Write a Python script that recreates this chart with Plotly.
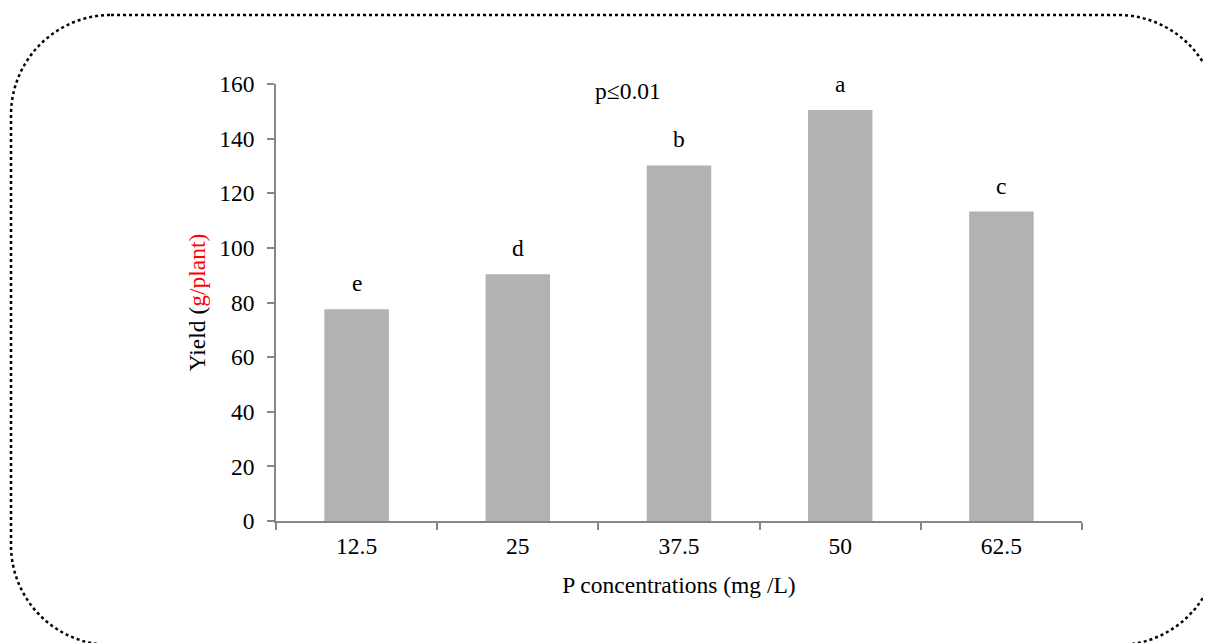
import plotly.graph_objects as go

categories = ["12.5", "25", "37.5", "50", "62.5"]
yield_values = [77.5, 90.3, 130.2, 150.5, 113.3]
letters = ["e", "d", "b", "a", "c"]
y_ticks = [0, 20, 40, 60, 80, 100, 120, 140, 160]

W, H = 1211, 643
OFF = 8  # page body margin offset
L, R, T, B = 276 - OFF, 1082 - OFF, 84 - OFF, 521 - OFF
FONT = "Liberation Serif, Times New Roman, serif"
FS = 23.5

def px2paper(x, y):
    x -= OFF
    y -= OFF
    return (x - L) / (R - L), (B - y) / (B - T)

def rounded_rect_path(x0, y0, x1, y1, r):
    k = 0.5523 * r
    def P(x, y):
        a, b = px2paper(x, y)
        return f"{a:.5f},{b:.5f}"
    d = f"M {P(x0 + r, y0)} L {P(x1 - r, y0)} "
    d += f"C {P(x1 - r + k, y0)} {P(x1, y0 + r - k)} {P(x1, y0 + r)} "
    d += f"L {P(x1, y1 - r)} "
    d += f"C {P(x1, y1 - r + k)} {P(x1 - r + k, y1)} {P(x1 - r, y1)} "
    d += f"L {P(x0 + r, y1)} "
    d += f"C {P(x0 + r - k, y1)} {P(x0, y1 - r + k)} {P(x0, y1 - r)} "
    d += f"L {P(x0, y0 + r)} "
    d += f"C {P(x0, y0 + r - k)} {P(x0 + r - k, y0)} {P(x0 + r, y0)} Z"
    return d

fig = go.Figure()
fig.add_trace(go.Bar(
    x=categories, y=yield_values, width=0.4,
    marker=dict(color="#b2b2b2", line=dict(width=0)),
    hoverinfo="x+y",
))

for i, (v, lt) in enumerate(zip(yield_values, letters)):
    fig.add_annotation(x=i, y=v, text=lt, showarrow=False, yanchor="bottom",
                       yshift=11, font=dict(family=FONT, size=FS, color="black"))

fig.add_annotation(xref="paper", yref="y", x=(628 - 276) / (1082 - 276), y=157.5,
                   text="p≤0.01", showarrow=False, xanchor="center", yanchor="middle",
                   font=dict(family=FONT, size=FS, color="black"))

fig.add_shape(type="path", xref="paper", yref="paper",
              path=rounded_rect_path(11, 15, 1218, 645, 100),
              line=dict(color="black", width=2.5, dash="dot"), layer="above")

fig.update_layout(
    width=W, height=H,
    margin=dict(l=L, r=W - R, t=T, b=H - B, autoexpand=False),
    paper_bgcolor="white", plot_bgcolor="white",
    showlegend=False,
    font=dict(family=FONT, size=FS, color="black"),
    xaxis=dict(
        type="category", tickson="boundaries", ticks="outside", ticklen=7,
        range=[-0.5, 4.5], automargin=False, ticklabelstandoff=3,
        tickcolor="#868686", tickwidth=1.5, tickangle=0,
        showline=True, linecolor="#868686", linewidth=1.5,
        showgrid=False, zeroline=False,
        tickfont=dict(family=FONT, size=FS, color="black"),
        title=dict(text="P concentrations (mg /L)", standoff=19,
                   font=dict(family=FONT, size=FS, color="black")),
    ),
    yaxis=dict(
        range=[0, 160], tickvals=y_ticks, ticks="outside", ticklen=7,
        automargin=False, ticklabelstandoff=8,
        tickcolor="#868686", tickwidth=1.5,
        showline=True, linecolor="#868686", linewidth=1.5,
        showgrid=False, zeroline=False,
        tickfont=dict(family=FONT, size=FS, color="black"),
        title=dict(text="Yield (<span style='color:red'>g/plant)</span>", standoff=7,
                   font=dict(family=FONT, size=FS, color="black")),
    ),
)

fig.write_html("out.html")
